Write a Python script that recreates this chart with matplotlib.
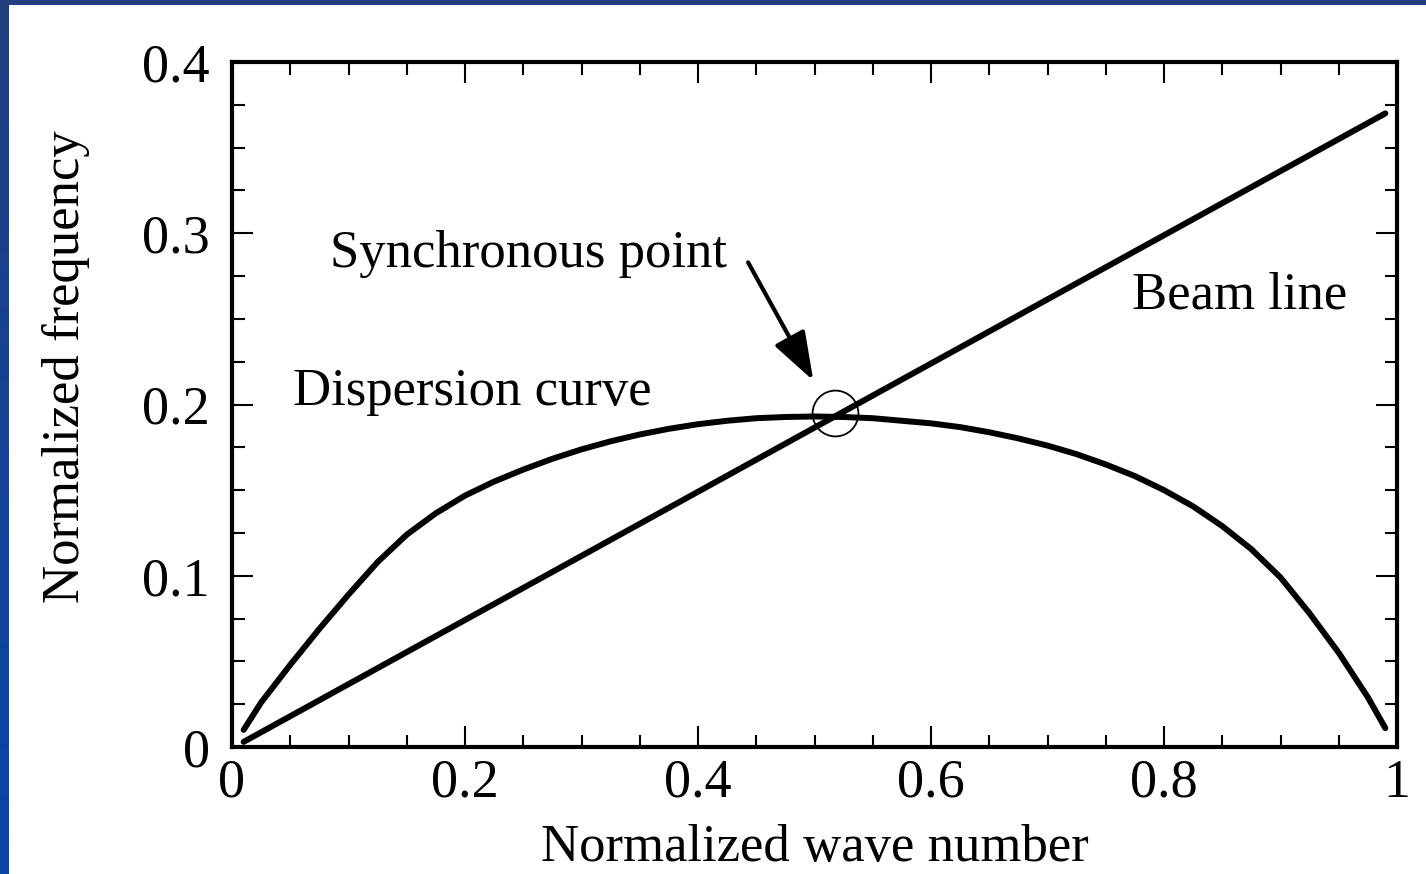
import numpy as np
import matplotlib
matplotlib.use('Agg')
import matplotlib.pyplot as plt
from matplotlib.patches import Rectangle
from matplotlib.colors import LinearSegmentedColormap

# Data
wave_number = [0.01, 0.025, 0.05, 0.075, 0.1, 0.125, 0.15, 0.175, 0.2, 0.225, 0.25, 0.275,
               0.3, 0.325, 0.35, 0.375, 0.4, 0.425, 0.45, 0.475, 0.5, 0.525, 0.55, 0.575,
               0.6, 0.625, 0.65, 0.675, 0.7, 0.725, 0.75, 0.775, 0.8, 0.825, 0.85, 0.875,
               0.9, 0.925, 0.95, 0.975, 0.99]
dispersion = [0.010, 0.026, 0.048, 0.069, 0.089, 0.108, 0.124, 0.1365, 0.1468, 0.155, 0.162, 0.1683,
              0.1738, 0.1785, 0.1825, 0.1858, 0.1885, 0.1905, 0.192, 0.1927, 0.193, 0.1927, 0.192, 0.1905,
              0.189, 0.1868, 0.1838, 0.1802, 0.176, 0.171, 0.165, 0.1582, 0.150, 0.1405, 0.129, 0.1155,
              0.099, 0.078, 0.055, 0.029, 0.011]
beam_x = [0.01, 0.99]
beam_y = [0.003, 0.370]
sync_point = (0.518, 0.195)

x_ticks = [0, 0.2, 0.4, 0.6, 0.8, 1.0]
x_tick_labels = ['0', '0.2', '0.4', '0.6', '0.8', '1']
y_ticks = [0, 0.1, 0.2, 0.3, 0.4]
y_tick_labels = ['0', '0.1', '0.2', '0.3', '0.4']

plt.rcParams['font.family'] = ['Liberation Serif', 'DejaVu Serif']

fig = plt.figure(figsize=(14.26, 8.74), dpi=100)
fig.patch.set_facecolor('white')

# blue slide border (top strip + left gradient strip)
fig.patches.append(Rectangle((0, 1 - 5 / 874), 1, 5 / 874, transform=fig.transFigure,
                             facecolor='#213f7f', edgecolor='none', zorder=0))
bax = fig.add_axes([0, 0, 9 / 1426, 1 - 5 / 874])
cmap = LinearSegmentedColormap.from_list('border', ['#213f7f', '#0a46a8'])
bax.imshow(np.linspace(0, 1, 200).reshape(-1, 1), aspect='auto', cmap=cmap)
bax.axis('off')

ax = fig.add_axes([232 / 1426, 127 / 874, 1165 / 1426, 685 / 874])

ax.plot(wave_number, dispersion, color='black', lw=4.3, solid_capstyle='round',
        solid_joinstyle='round')
ax.plot(beam_x, beam_y, color='black', lw=4.3, solid_capstyle='round')
ax.plot([sync_point[0]], [sync_point[1]], 'o', ms=33, mfc='none', mec='black', mew=1.3)

ax.annotate('', xy=(0.499, 0.214), xytext=(0.443, 0.283),
            arrowprops=dict(arrowstyle='-|>,head_length=1.0,head_width=0.35',
                            mutation_scale=30, color='black', lw=3, shrinkA=0, shrinkB=0))

ax.text(0.084, 0.280, 'Synchronous point', fontsize=38, va='baseline', ha='left')
ax.text(0.052, 0.1997, 'Dispersion curve', fontsize=38, va='baseline', ha='left')
ax.text(0.7725, 0.2563, 'Beam line', fontsize=38, va='baseline', ha='left')

ax.set_xlim(0, 1)
ax.set_ylim(0, 0.4)
ax.set_xticks(x_ticks)
ax.set_xticklabels(x_tick_labels)
ax.set_yticks(y_ticks)
ax.set_yticklabels(y_tick_labels)
ax.set_xticks(np.arange(0, 1.0001, 0.05), minor=True)
ax.set_yticks(np.arange(0, 0.4001, 0.025), minor=True)

ax.tick_params(which='both', direction='in', top=True, right=True, width=1.5)
ax.tick_params(which='major', length=15)
ax.tick_params(which='minor', length=9)
ax.tick_params(axis='x', which='major', labelsize=39, pad=8)
ax.tick_params(axis='y', which='major', labelsize=39, pad=16)
for s in ax.spines.values():
    s.set_linewidth(3)

ax.set_xlabel('Normalized wave number', fontsize=38, labelpad=11)
ax.set_ylabel('Normalized frequency', fontsize=38)
ax.yaxis.set_label_coords(-0.122, 0.555)

fig.savefig('out.png', dpi=100)
